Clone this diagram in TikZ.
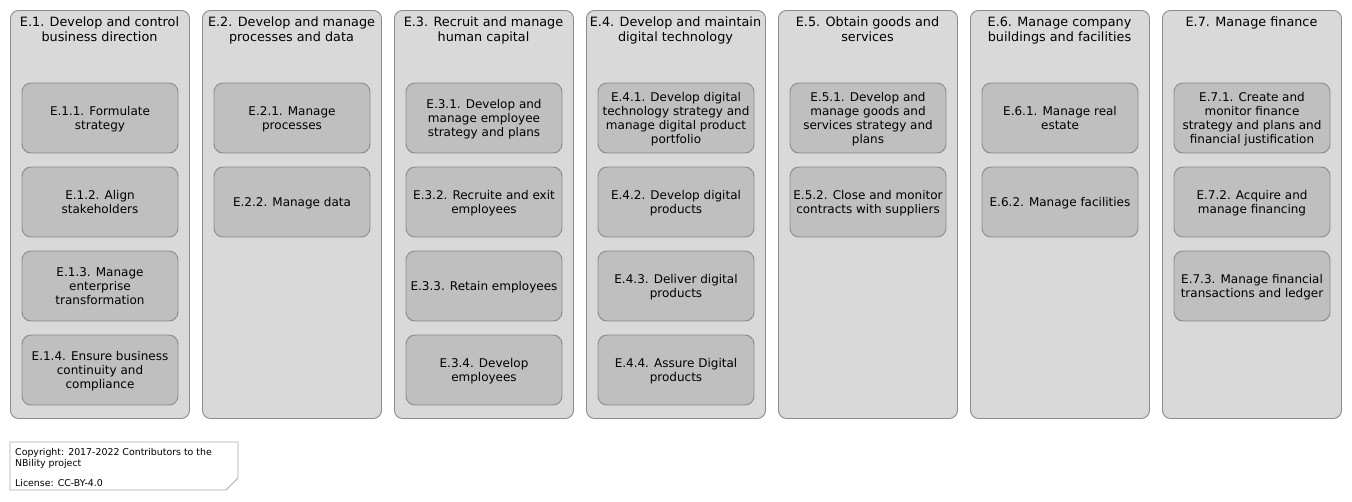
\documentclass[tikz,border=0pt]{standalone}
\usepackage{fontspec}
\setmainfont{DejaVu Sans}
\definecolor{outerfill}{HTML}{D9D9D9}
\definecolor{innerfill}{HTML}{BFBFBF}
\definecolor{edgegray}{HTML}{8A8A8A}
\definecolor{notegray}{HTML}{AAAAAA}
\begin{document}
\begin{tikzpicture}[x=1pt,y=-1pt,
  outerbox/.style={draw=edgegray, fill=outerfill, line width=0.9pt, rounded corners=8pt,
    minimum width=179pt, minimum height=408pt, anchor=north west, inner sep=0pt},
  titletext/.style={align=center, font=\fontsize{12.8}{15}\selectfont, inner sep=0pt, anchor=north},
  innerbox/.style={draw=edgegray, fill=innerfill, line width=0.9pt, rounded corners=9pt,
    minimum width=156pt, minimum height=70pt, align=center, inner sep=0pt,
    font=\fontsize{12}{14}\selectfont, text depth=0pt},
  notetext/.style={align=left, anchor=north west, inner sep=0pt, font=\fontsize{9.4}{11}\selectfont}
]
\useasboundingbox (0,0) rectangle (1352,501);
% columns
\node[outerbox] (c1) at (10,10) {};
\node[outerbox] (c2) at (202,10) {};
\node[outerbox] (c3) at (394,10) {};
\node[outerbox] (c4) at (586,10) {};
\node[outerbox] (c5) at (778,10) {};
\node[outerbox] (c6) at (970,10) {};
\node[outerbox] (c7) at (1162,10) {};
% titles
\node[titletext] (t1) at (99.5,17) {E.1. Develop and control\\business direction};
\node[titletext] (t2) at (291.5,17) {E.2. Develop and manage\\processes and data};
\node[titletext] (t3) at (483.5,17) {E.3. Recruit and manage\\human capital};
\node[titletext] (t4) at (675.5,17) {E.4. Develop and maintain\\digital technology};
\node[titletext] (t5) at (867.5,17) {E.5. Obtain goods and\\services};
\node[titletext] (t6) at (1059.5,17) {E.6. Manage company\\buildings and facilities};
\node[titletext] (t7) at (1251.5,17) {E.7. Manage finance};
% column 1
\node[innerbox] (e11) at (100,118) {E.1.1. Formulate\\strategy};
\node[innerbox] (e12) at (100,202) {E.1.2. Align\\stakeholders};
\node[innerbox] (e13) at (100,286) {E.1.3. Manage\\enterprise\\transformation};
\node[innerbox] (e14) at (100,370) {E.1.4. Ensure business\\continuity and\\compliance};
% column 2
\node[innerbox] (e21) at (292,118) {E.2.1. Manage\\processes};
\node[innerbox] (e22) at (292,202) {E.2.2. Manage data};
% column 3
\node[innerbox] (e31) at (484,118) {E.3.1. Develop and\\manage employee\\strategy and plans};
\node[innerbox] (e32) at (484,202) {E.3.2. Recruite and exit\\employees};
\node[innerbox] (e33) at (484,286) {E.3.3. Retain employees};
\node[innerbox] (e34) at (484,370) {E.3.4. Develop\\employees};
% column 4
\node[innerbox] (e41) at (676,118) {E.4.1. Develop digital\\technology strategy and\\manage digital product\\portfolio};
\node[innerbox] (e42) at (676,202) {E.4.2. Develop digital\\products};
\node[innerbox] (e43) at (676,286) {E.4.3. Deliver digital\\products};
\node[innerbox] (e44) at (676,370) {E.4.4. Assure Digital\\products};
% column 5
\node[innerbox] (e51) at (868,118) {E.5.1. Develop and\\manage goods and\\services strategy and\\plans};
\node[innerbox] (e52) at (868,202) {E.5.2. Close and monitor\\contracts with suppliers};
% column 6
\node[innerbox] (e61) at (1060,118) {E.6.1. Manage real\\estate};
\node[innerbox] (e62) at (1060,202) {E.6.2. Manage facilities};
% column 7
\node[innerbox] (e71) at (1252,118) {E.7.1. Create and\\monitor finance\\strategy and plans and\\financial justification};
\node[innerbox] (e72) at (1252,202) {E.7.2. Acquire and\\manage financing};
\node[innerbox] (e73) at (1252,286) {E.7.3. Manage financial\\transactions and ledger};
% note
\draw[draw=notegray, fill=white, line width=0.9pt] (10,442) -- (238,442) -- (238,478) -- (226,490) -- (10,490) -- cycle;
\node[notetext] (note) at (15,448.5) {Copyright: 2017-2022 Contributors to the\\NBility project\\[9pt]License: CC-BY-4.0};
\end{tikzpicture}
\end{document}
